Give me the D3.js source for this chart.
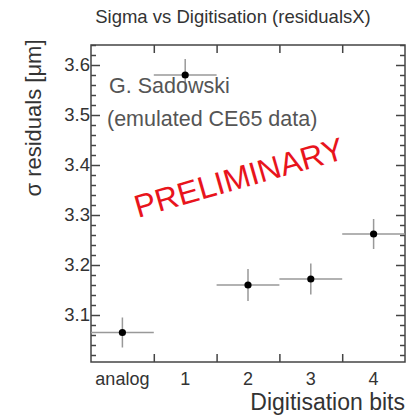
<!DOCTYPE html>
<html>
<head>
<meta charset="utf-8">
<script src="https://cdn.jsdelivr.net/npm/d3@7"></script>
<style>
  body { margin: 0; background: #fff; }
  text { font-family: "Liberation Sans", Arial, sans-serif; }
</style>
</head>
<body>
<div id="wrapper"></div>
<script>
// 1. Data

const categories = ["analog", "1", "2", "3", "4"]
const sigmaValues = [3.065, 3.580, 3.160, 3.172, 3.262]
const sigmaErrors = [0.030, 0.032, 0.032, 0.031, 0.030]
const yTicks = [3.1, 3.2, 3.3, 3.4, 3.5, 3.6]

const dataset = categories.map((c, i) => ({ bin: i, label: c, y: sigmaValues[i], err: sigmaErrors[i] }))

// 2. Dimensions

let dimensions = {
  width: 418,
  height: 415,
  margin: { top: 45, right: 13, bottom: 53, left: 91 },
}
dimensions.boundedWidth = dimensions.width - dimensions.margin.left - dimensions.margin.right
dimensions.boundedHeight = dimensions.height - dimensions.margin.top - dimensions.margin.bottom

// 3. Canvas

const wrapper = d3.select("#wrapper")
  .append("svg")
  .attr("width", dimensions.width)
  .attr("height", dimensions.height)

const bounds = wrapper.append("g")
  .attr("transform", `translate(${dimensions.margin.left},${dimensions.margin.top})`)

// 4. Scales

const xScale = d3.scaleLinear()
  .domain([0, categories.length])
  .range([0, dimensions.boundedWidth])

const yScale = d3.scaleLinear()
  .domain([3.006, 3.64])
  .range([dimensions.boundedHeight, 0])

const axisColor = "#444"

// 5. Axes (ROOT style: ticks inside, mirrored)

const minorTicks = d3.range(3.02, 3.64, 0.02).filter(v => !yTicks.some(t => Math.abs(t - v) < 1e-6))

const yAxisGen = d3.axisRight(yScale).tickValues(yTicks).tickSize(9).tickFormat("")
const yMinorGen = d3.axisRight(yScale).tickValues(minorTicks).tickSize(5).tickFormat("")
const yAxisGenR = d3.axisLeft(yScale).tickValues(yTicks).tickSize(9).tickFormat("")
const yMinorGenR = d3.axisLeft(yScale).tickValues(minorTicks).tickSize(5).tickFormat("")

const binEdges = d3.range(1, categories.length)
const xAxisGen = d3.axisTop(xScale).tickValues(binEdges).tickSize(8).tickFormat("")
const xAxisGenT = d3.axisBottom(xScale).tickValues(binEdges).tickSize(8).tickFormat("")

function styleAxis(g) {
  g.select(".domain").remove()
  g.selectAll("line").attr("stroke", axisColor).attr("stroke-width", 1.5)
}

bounds.append("g").call(yAxisGen).call(styleAxis)
bounds.append("g").call(yMinorGen).call(styleAxis)
bounds.append("g").attr("transform", `translate(${dimensions.boundedWidth},0)`).call(yAxisGenR).call(styleAxis)
bounds.append("g").attr("transform", `translate(${dimensions.boundedWidth},0)`).call(yMinorGenR).call(styleAxis)
bounds.append("g").attr("transform", `translate(0,${dimensions.boundedHeight})`).call(xAxisGen).call(styleAxis)
bounds.append("g").call(xAxisGenT).call(styleAxis)

// frame
bounds.append("rect")
  .attr("width", dimensions.boundedWidth)
  .attr("height", dimensions.boundedHeight)
  .attr("fill", "none")
  .attr("stroke", axisColor)
  .attr("stroke-width", 1.5)

// tick labels
bounds.selectAll(".ylab")
  .data(yTicks)
  .join("text")
  .attr("x", -1)
  .attr("y", d => yScale(d))
  .attr("dy", "0.35em")
  .attr("text-anchor", "end")
  .attr("font-size", 18.5)
  .attr("fill", "#333")
  .text(d => d3.format(".1f")(d))

bounds.selectAll(".xlab")
  .data(dataset)
  .join("text")
  .attr("x", d => xScale(d.bin + 0.5))
  .attr("y", dimensions.boundedHeight + 22.5)
  .attr("text-anchor", "middle")
  .attr("font-size", 18)
  .attr("fill", "#333")
  .text(d => d.label)

// 6. Points with error bars

const errColor = "#999"

bounds.selectAll(".hbar")
  .data(dataset)
  .join("line")
  .attr("x1", d => xScale(d.bin))
  .attr("x2", d => xScale(d.bin + 1))
  .attr("y1", d => yScale(d.y))
  .attr("y2", d => yScale(d.y))
  .attr("stroke", errColor)
  .attr("stroke-width", 1.5)

bounds.selectAll(".vbar")
  .data(dataset)
  .join("line")
  .attr("x1", d => xScale(d.bin + 0.5))
  .attr("x2", d => xScale(d.bin + 0.5))
  .attr("y1", d => yScale(d.y - d.err))
  .attr("y2", d => yScale(d.y + d.err))
  .attr("stroke", errColor)
  .attr("stroke-width", 1.5)

bounds.selectAll("circle")
  .data(dataset)
  .join("circle")
  .attr("cx", d => xScale(d.bin + 0.5))
  .attr("cy", d => yScale(d.y))
  .attr("r", 3.6)
  .attr("fill", "#000")

// 7. Labels

wrapper.append("text")
  .attr("x", 233)
  .attr("y", 23)
  .attr("text-anchor", "middle")
  .attr("font-size", 18.5)
  .attr("fill", "#333")
  .text("Sigma vs Digitisation (residualsX)")

wrapper.append("text")
  .attr("x", dimensions.width - dimensions.margin.right)
  .attr("y", 410)
  .attr("text-anchor", "end")
  .attr("font-size", 23)
  .attr("fill", "#333")
  .text("Digitisation bits")

wrapper.append("text")
  .attr("transform", "translate(41,118) rotate(-90)")
  .attr("text-anchor", "middle")
  .attr("font-size", 22)
  .attr("fill", "#333")
  .text("σ residuals [μm]")

wrapper.append("text")
  .attr("x", 109)
  .attr("y", 93)
  .attr("font-size", 21.5)
  .attr("fill", "#555")
  .text("G. Sadowski")

wrapper.append("text")
  .attr("x", 107)
  .attr("y", 126)
  .attr("font-size", 21.5)
  .attr("fill", "#555")
  .text("(emulated CE65 data)")

wrapper.append("text")
  .attr("transform", "translate(138,218) rotate(-16)")
  .attr("font-size", 32)
  .attr("fill", "#e8141c")
  .text("PRELIMINARY")
</script>
</body>
</html>
